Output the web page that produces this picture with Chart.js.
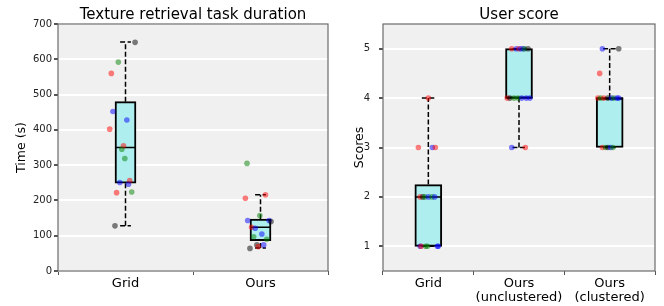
<!DOCTYPE html>
<html lang="en">
<head>
    <meta charset="UTF-8">
    <title>Texture retrieval / User score</title>
    <style>
        body {
            margin: 0;
            background: #ffffff;
            width: 664px;
            height: 306px;
            position: relative;
            overflow: hidden;
        }

        canvas {
            position: absolute;
            top: 0;
        }

        #timeChart { left: 0; }
        #scoreChart { left: 332px; }
    </style>
</head>
<body>
    <canvas id="timeChart" width="332" height="306"></canvas>
    <canvas id="scoreChart" width="332" height="306"></canvas>

    <script src="https://cdn.jsdelivr.net/npm/chart.js"></script>
    <script>
        // ---- Texture retrieval task duration ----
        const timeLabels = ['Grid', 'Ours'];
        const timeQ1 = [249, 86];
        const timeMedian = [350, 124];
        const timeQ3 = [480, 147];
        const timeLow = [128, 65];
        const timeHigh = [649, 216];
        const timeTicks = [0, 100, 200, 300, 400, 500, 600, 700];

        // individual measurements (value, horizontal jitter, colour key)
        const timeValues = [
            [648, 592, 560, 452, 428, 402, 355, 345, 319, 251, 256, 246, 222, 224, 128],
            [305, 206, 216, 157, 143, 143, 140, 124, 121, 105, 97, 90, 74, 74, 69, 64]
        ];
        const timeJitter = [
            [0.071, -0.053, -0.105, -0.093, 0.01, -0.117, -0.015, -0.027, -0.005, -0.042, 0.031, 0.022, -0.066, 0.046, -0.078],
            [-0.1, -0.112, 0.037, -0.005, -0.095, 0.064, 0.078, -0.066, -0.039, 0.01, -0.051, 0.046, -0.027, 0.024, -0.017, -0.078]
        ];
        const timeColors = [
            ['k', 'g', 'r', 'b', 'b', 'r', 'r', 'g', 'g', 'b', 'r', 'b', 'r', 'g', 'k'],
            ['g', 'r', 'r', 'g', 'b', 'b', 'k', 'r', 'b', 'b', 'g', 'g', 'k', 'b', 'r', 'k']
        ];

        // ---- User score ----
        const scoreLabels = ['Grid', ['Ours', '(unclustered)'], ['Ours', '(clustered)']];
        const scoreQ1 = [1, 4, 3];
        const scoreMedian = [2, 4, 4];
        const scoreQ3 = [2.25, 5, 4];
        const scoreLow = [1, 3, 3];
        const scoreHigh = [4, 5, 5];
        const scoreTicks = [1, 2, 3, 4, 5];

        const scoreValues = [
            [4, 3, 3, 3, 2, 2, 2, 2, 2, 2, 1, 1, 1, 1, 1, 1],
            [5, 5, 5, 5, 5, 5, 5, 4, 4, 4, 4, 4, 4, 4, 3, 3],
            [5, 5, 4.5, 4, 4, 4, 4, 4, 4, 4, 4, 3, 3, 3, 3, 3]
        ];
        const scoreJitter = [
            [0, -0.11, 0.044, 0.077, -0.09, -0.06, -0.04, 0, 0.04, 0.07, -0.09, -0.08, -0.03, -0.01, 0.1, 0.11],
            [-0.08, -0.03, 0, 0.02, 0.05, 0.06, 0.1, -0.13, -0.1, -0.055, -0.01, 0.03, 0.08, 0.12, -0.08, 0.07],
            [-0.08, 0.1, -0.11, -0.13, -0.1, -0.065, -0.02, 0.02, 0.045, 0.08, 0.1, -0.08, -0.045, -0.02, 0.01, 0.035]
        ];
        const scoreColors = [
            ['r', 'r', 'b', 'r', 'r', 'k', 'g', 'b', 'g', 'b', 'b', 'r', 'g', 'g', 'b', 'b'],
            ['r', 'b', 'r', 'b', 'b', 'g', 'k', 'r', 'k', 'g', 'g', 'b', 'b', 'b', 'b', 'r'],
            ['b', 'k', 'r', 'r', 'g', 'r', 'k', 'b', 'g', 'b', 'b', 'r', 'g', 'k', 'b', 'g']
        ];

        const pointColor = {
            r: 'rgba(255, 0, 0, 0.5)',
            g: 'rgba(0, 128, 0, 0.5)',
            b: 'rgba(0, 0, 255, 0.5)',
            k: 'rgba(0, 0, 0, 0.5)'
        };

        Chart.defaults.font.family = "'DejaVu Sans', sans-serif";
        Chart.defaults.color = '#111';

        // plot background + frame
        const panelPlugin = {
            id: 'panel',
            beforeDraw(chart) {
                const { ctx, chartArea: a } = chart;
                ctx.save();
                ctx.fillStyle = '#f0f0f0';
                ctx.fillRect(a.left, a.top, a.right - a.left, a.bottom - a.top);
                ctx.restore();
            },
            afterDraw(chart) {
                const { ctx, chartArea: a } = chart;
                ctx.save();
                ctx.strokeStyle = '#6b6b6b';
                ctx.lineWidth = 1.2;
                ctx.strokeRect(a.left, a.top, a.right - a.left, a.bottom - a.top);
                ctx.restore();
            }
        };

        function drawBoxPlot(canvasId, s) {
            const n = s.labels.length;
            const points = [];
            const colors = [];
            const medians = [];
            const whiskers = [];
            const caps = [];
            const boxes = [];

            for (let i = 0; i < n; i++) {
                const x = i + 1;
                s.values[i].forEach((v, j) => {
                    points.push({ x: x + s.jitter[i][j], y: v });
                    colors.push(pointColor[s.colors[i][j]]);
                });
                boxes.push({ x: x, y: [s.q1[i], s.q3[i]] });
                medians.push({ x: x - s.halfBox, y: s.median[i] }, { x: x + s.halfBox, y: s.median[i] }, { x: x, y: null });
                whiskers.push({ x: x, y: s.low[i] }, { x: x, y: s.q1[i] }, { x: x, y: null });
                whiskers.push({ x: x, y: s.q3[i] }, { x: x, y: s.high[i] }, { x: x, y: null });
                caps.push({ x: x - s.halfCap, y: s.low[i] }, { x: x + s.halfCap, y: s.low[i] }, { x: x, y: null });
                caps.push({ x: x - s.halfCap, y: s.high[i] }, { x: x + s.halfCap, y: s.high[i] }, { x: x, y: null });
            }

            const ctx = document.getElementById(canvasId).getContext('2d');
            new Chart(ctx, {
                type: 'bar',
                data: {
                    datasets: [
                        {
                            type: 'scatter',
                            data: points,
                            pointBackgroundColor: colors,
                            pointBorderWidth: 0,
                            pointRadius: 2.8,
                            order: 0
                        },
                        {
                            type: 'line',
                            data: medians,
                            borderColor: '#000',
                            borderWidth: 1.5,
                            pointRadius: 0,
                            spanGaps: false,
                            order: 1
                        },
                        {
                            type: 'line',
                            data: whiskers,
                            borderColor: '#000',
                            borderWidth: 1.5,
                            borderDash: [5, 2.5],
                            pointRadius: 0,
                            spanGaps: false,
                            order: 2
                        },
                        {
                            type: 'line',
                            data: caps,
                            borderColor: '#000',
                            borderWidth: 1.5,
                            borderDash: [5, 2.5],
                            pointRadius: 0,
                            spanGaps: false,
                            order: 2
                        },
                        {
                            type: 'bar',
                            data: boxes,
                            backgroundColor: '#afeeee',
                            borderColor: '#000',
                            borderWidth: 2,
                            borderSkipped: false,
                            barThickness: s.boxPx,
                            order: 3
                        }
                    ]
                },
                options: {
                    responsive: false,
                    animation: false,
                    layout: { padding: { left: 0, right: s.padRight, top: 0, bottom: 0 } },
                    plugins: {
                        legend: { display: false },
                        tooltip: { enabled: false },
                        title: {
                            display: true,
                            text: s.title,
                            fullSize: false,
                            color: '#000',
                            font: { size: 15, weight: 'normal' },
                            padding: { top: 6, bottom: 0 }
                        }
                    },
                    scales: {
                        x: {
                            type: 'linear',
                            min: 0.5,
                            max: n + 0.5,
                            offset: false,
                            afterBuildTicks: scale => {
                                scale.ticks = s.labels.map((_, i) => ({ value: i + 1 }));
                            },
                            afterFit: scale => { scale.height = 35; },
                            ticks: {
                                callback: v => s.labels[v - 1],
                                font: { size: 13, lineHeight: 1.1 },
                                color: '#000',
                                padding: 1,
                                maxRotation: 0,
                                autoSkip: false
                            },
                            grid: {
                                drawOnChartArea: false,
                                drawTicks: true,
                                tickLength: 4,
                                tickColor: '#555'
                            },
                            border: { display: false }
                        },
                        y: {
                            type: 'linear',
                            min: s.yMin,
                            max: s.yMax,
                            afterBuildTicks: scale => {
                                scale.ticks = s.ticks.map(v => ({ value: v }));
                            },
                            afterFit: scale => { scale.width = s.axisWidth; },
                            ticks: {
                                font: { size: 10 },
                                color: '#222',
                                padding: s.tickPad
                            },
                            grid: {
                                color: '#ffffff',
                                lineWidth: 2,
                                drawTicks: true,
                                tickLength: 4,
                                tickColor: '#555'
                            },
                            border: { display: false },
                            title: {
                                display: true,
                                text: s.yTitle,
                                color: '#000',
                                font: { size: 12.5 },
                                padding: { top: s.titlePad }
                            }
                        }
                    }
                },
                plugins: [panelPlugin]
            });
        }

        drawBoxPlot('timeChart', {
            title: 'Texture retrieval task duration',
            yTitle: 'Time (s)',
            labels: timeLabels,
            q1: timeQ1, median: timeMedian, q3: timeQ3, low: timeLow, high: timeHigh,
            values: timeValues, jitter: timeJitter, colors: timeColors,
            ticks: timeTicks, yMin: 0, yMax: 700,
            halfBox: 0.077, halfCap: 0.04, boxPx: 21,
            axisWidth: 58, padRight: 1, tickPad: 2, titlePad: 14
        });

        drawBoxPlot('scoreChart', {
            title: 'User score',
            yTitle: 'Scores',
            labels: scoreLabels,
            q1: scoreQ1, median: scoreMedian, q3: scoreQ3, low: scoreLow, high: scoreHigh,
            values: scoreValues, jitter: scoreJitter, colors: scoreColors,
            ticks: scoreTicks, yMin: 0.5, yMax: 5.5,
            halfBox: 0.149, halfCap: 0.072, boxPx: 27,
            axisWidth: 51, padRight: 9, tickPad: 9, titlePad: 20.5
        });
    </script>
</body>
</html>
